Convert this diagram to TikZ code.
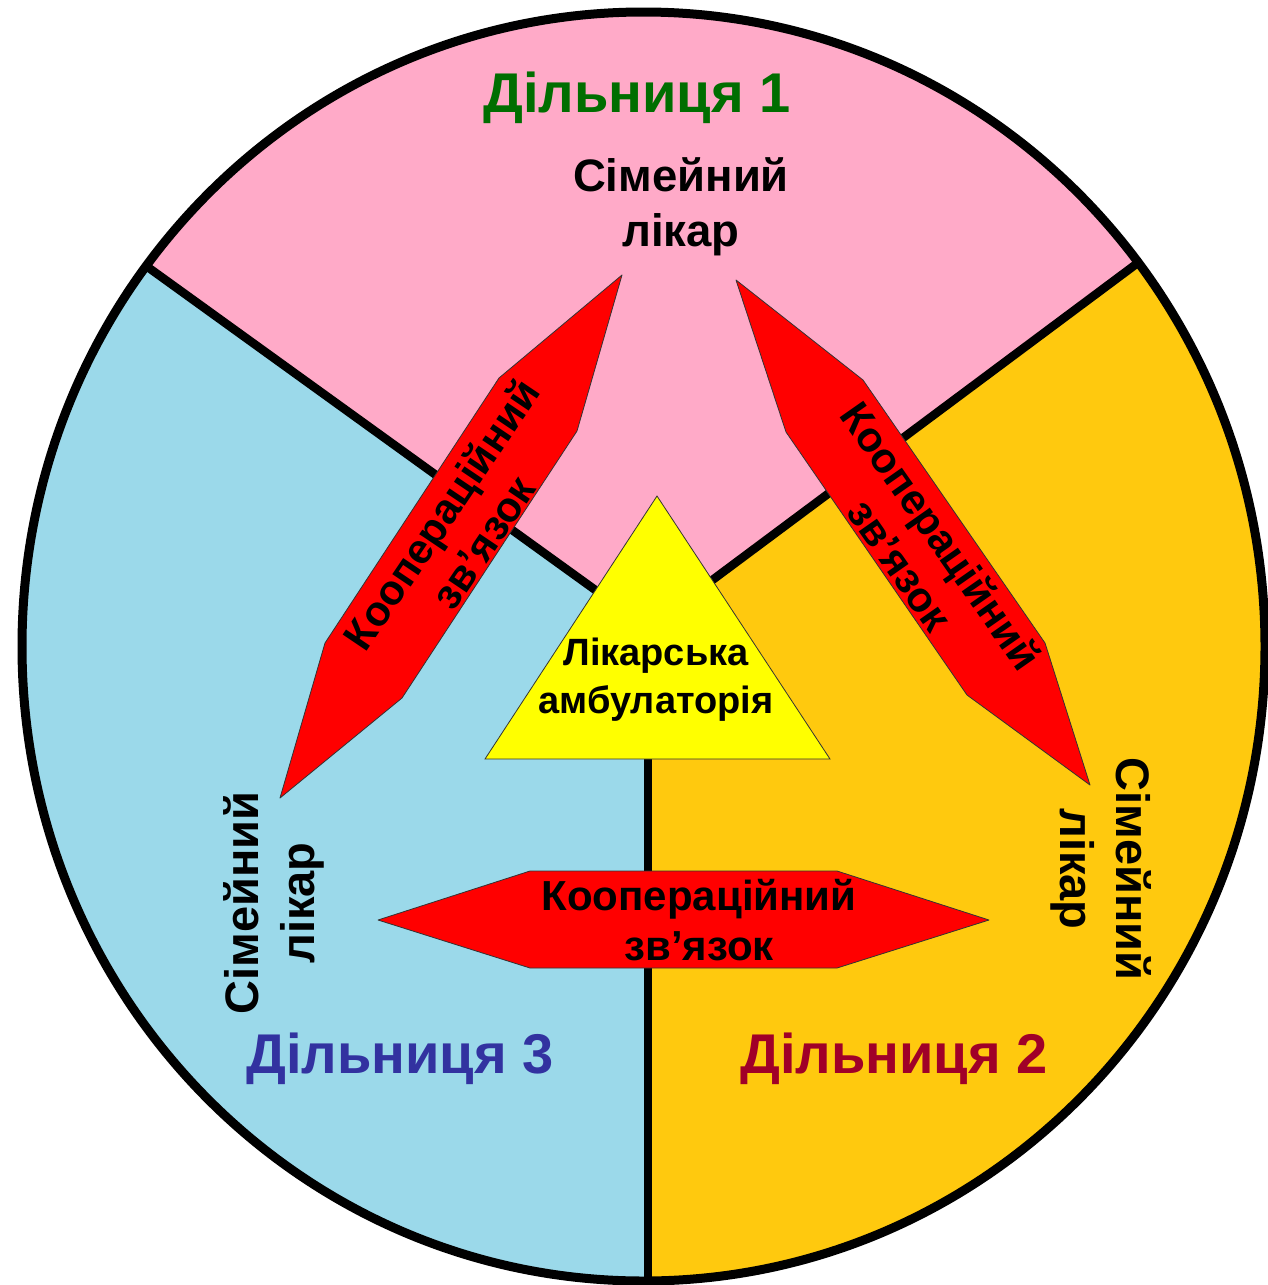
\documentclass[tikz,border=0pt]{standalone}
\usepackage{fontspec}
\setmainfont{Liberation Sans}
\usepackage{xcolor}
\usetikzlibrary{calc}

\definecolor{sectpink}{RGB}{255,170,200}
\definecolor{sectblue}{RGB}{155,217,234}
\definecolor{sectorange}{RGB}{255,201,14}
\definecolor{linkred}{RGB}{255,0,0}
\definecolor{clinicyellow}{RGB}{255,255,0}
\definecolor{labgreen}{RGB}{0,110,0}
\definecolor{labblue}{RGB}{50,50,160}
\definecolor{labred}{RGB}{160,0,40}

\begin{document}
\begin{tikzpicture}[
  x=1pt, y=-1pt,
  divider/.style={line width=8.5pt},
  coop/.style={draw=black!80, line width=0.8pt, fill=linkred, line join=round},
  clinic/.style={draw=black!80, line width=0.8pt, fill=clinicyellow},
  region/.style={font=\bfseries\fontsize{56}{60}\selectfont, inner sep=0pt},
  doctor/.style={font=\bfseries\fontsize{45.5}{55}\selectfont, align=center, inner sep=0pt},
  sidedoctor/.style={doctor, font=\bfseries\fontsize{47}{56}\selectfont},
  link/.style={font=\bfseries\fontsize{42}{50}\selectfont, align=center, inner sep=0pt},
  clinictext/.style={font=\bfseries\fontsize{38}{48}\selectfont, align=center, inner sep=0pt}
]
  \useasboundingbox (0,0) rectangle (1268,1285);
  \coordinate (c) at (648,628);
  \coordinate (l1) at (149,268);
  \coordinate (r1) at (1139,262);
  \coordinate (b) at (648,1281);

  % sectors
  \begin{scope}
    \clip (643.5,646.5) ellipse [x radius=621.5pt, y radius=634.5pt];
    \fill[sectblue] (0,0) rectangle (1268,1285);
    \fill[sectpink] (c) -- ($(c)!3!(l1)$) -- (-900,-900) -- (2200,-900) -- ($(c)!3!(r1)$) -- cycle;
    \fill[sectorange] (c) -- ($(c)!3!(r1)$) -- (2200,2600) -- ($(c)!3!(b)$) -- cycle;
  \end{scope}
  \draw[divider] (c) -- (l1);
  \draw[divider] (c) -- (r1);
  \draw[divider] (c) -- (b);
  \draw[line width=9pt] (643.5,646.5) ellipse [x radius=621.5pt, y radius=634.5pt];

  % cooperation links
  \draw[coop] (622,275) -- (577,431) -- (402,698) -- (280,798) -- (325,643) -- (499,378) -- cycle;
  \draw[coop] (736,280) -- (863,380) -- (1045,643) -- (1090,785) -- (967,695) -- (786,432) -- cycle;
  \draw[coop] (378,920) -- (530,871) -- (837,871) -- (989,920) -- (837,968) -- (530,968) -- cycle;

  % clinic
  \draw[clinic] (657,496) -- (830,759) -- (485,759) -- cycle;
  \node[clinictext] (amb) at (656,680) {Лікарська\\амбулаторія};

  % labels
  \node[region, text=labgreen] (d1) at (637,98) {Дільниця 1};
  \node[region, text=labblue] (d3) at (400,1059) {Дільниця 3};
  \node[region, text=labred] (d2) at (894,1059) {Дільниця 2};

  \node[doctor] (doc1) at (681,207) {Сімейний\\лікар};
  \node[sidedoctor, rotate=90] (doc3) at (274,903) {Сімейний\\лікар};
  \node[sidedoctor, rotate=-90] (doc2) at (1101,869) {Сімейний\\лікар};

  \node[link, rotate=56] (link13) at (462,528) {Коопераційний\\зв’язок};
  \node[link, rotate=-55] (link12) at (921,550) {Коопераційний\\зв’язок};
  \node[link] (link23) at (699,920) {Коопераційний\\зв’язок};
\end{tikzpicture}
\end{document}
